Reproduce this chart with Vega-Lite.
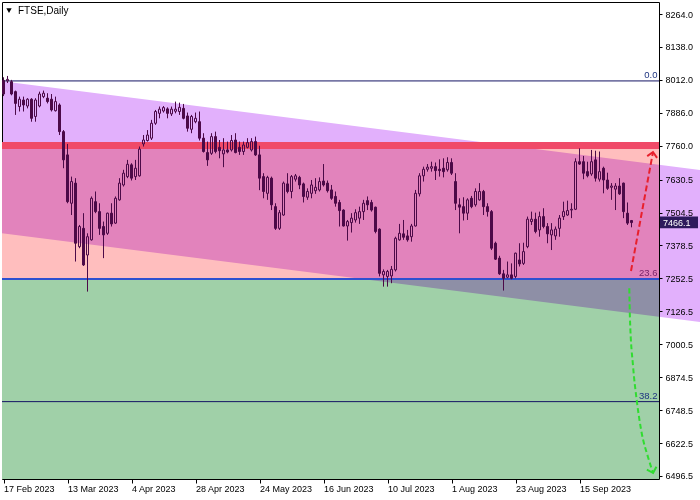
{
  "$schema": "https://vega.github.io/schema/vega-lite/v6.json",
  "width": 657,
  "height": 477,
  "autosize": {"type": "none"},
  "padding": {"left": 2, "top": 2, "right": 41, "bottom": 21},
  "background": "#ffffff",
  "config": {
    "view": {"stroke": "#000000", "strokeWidth": 1},
    "font": "Liberation Sans",
    "scale": {"continuousPadding": 0},
    "axis": {"labelOverlap": false, "labelFlush": false, "labelBound": false, "grid": false, "domain": false},
    "axisY": {"labelOverlap": false},
    "axisQuantitative": {"labelOverlap": false, "tickCount": 20}
  },
  "datasets": {
    "zones": [
      {"zone": "salmon", "top": 7761, "bottom": 7250},
      {"zone": "green", "top": 7250, "bottom": 6485}
    ],
    "channel": [
      {"i": -0.375, "top": 8006.7, "bot": 7425.2},
      {"i": 174.125, "top": 7667.5, "bot": 7086}
    ],
    "fib": [
      {"level": "0.0", "price": 8008},
      {"level": "23.6", "price": 7250},
      {"level": "38.2", "price": 6781}
    ],
    "resistance": [{"price": 7761}],
    "up": [
      {"s": 0, "i": 156.875, "p": 7280.7},
      {"s": 1, "i": 162.375, "p": 7736}
    ],
    "uptip": [{"i": 162.375, "p": 7736}],
    "down": [
      {"s": 0, "i": 156.45, "p": 7214.5},
      {"s": 1, "i": 156.6, "p": 7105.9},
      {"s": 2, "i": 157.4, "p": 6914.6},
      {"s": 3, "i": 158.3, "p": 6787.2},
      {"s": 4, "i": 159.55, "p": 6660.9},
      {"s": 5, "i": 161.1, "p": 6570.2},
      {"s": 6, "i": 162.4, "p": 6507.9}
    ],
    "downtip": [{"i": 162.4, "p": 6507.9}],
    "last": [{"close": 7466.1}],
    "title": [{"text": "FTSE,Daily"}],
    "candles": [
      {"i":0,"o":8010,"h":8022,"l":7950,"c":7958},
      {"i":1,"o":8008,"h":8027,"l":8000,"c":8014},
      {"i":2,"o":8005,"h":8012,"l":7953,"c":7958},
      {"i":3,"o":7967,"h":7971,"l":7878,"c":7922},
      {"i":4,"o":7910,"h":7948,"l":7891,"c":7938},
      {"i":5,"o":7935,"h":7948,"l":7891,"c":7916},
      {"i":6,"o":7912,"h":7942,"l":7903,"c":7938},
      {"i":7,"o":7938,"h":7942,"l":7852,"c":7865},
      {"i":8,"o":7872,"h":7942,"l":7852,"c":7935},
      {"i":9,"o":7912,"h":7967,"l":7907,"c":7958},
      {"i":10,"o":7948,"h":7971,"l":7942,"c":7961},
      {"i":11,"o":7942,"h":7961,"l":7922,"c":7929},
      {"i":12,"o":7938,"h":7958,"l":7891,"c":7897},
      {"i":13,"o":7894,"h":7948,"l":7891,"c":7929},
      {"i":14,"o":7916,"h":7922,"l":7801,"c":7814},
      {"i":15,"o":7814,"h":7820,"l":7674,"c":7706},
      {"i":16,"o":7725,"h":7767,"l":7540,"c":7546},
      {"i":17,"o":7540,"h":7642,"l":7495,"c":7623},
      {"i":18,"o":7617,"h":7636,"l":7317,"c":7387},
      {"i":19,"o":7374,"h":7457,"l":7368,"c":7451},
      {"i":20,"o":7444,"h":7502,"l":7300,"c":7304},
      {"i":21,"o":7342,"h":7425,"l":7202,"c":7412},
      {"i":22,"o":7400,"h":7566,"l":7397,"c":7559},
      {"i":23,"o":7546,"h":7585,"l":7502,"c":7508},
      {"i":24,"o":7508,"h":7540,"l":7419,"c":7444},
      {"i":25,"o":7451,"h":7470,"l":7330,"c":7419},
      {"i":26,"o":7425,"h":7504,"l":7419,"c":7502},
      {"i":27,"o":7502,"h":7540,"l":7451,"c":7461},
      {"i":28,"o":7464,"h":7566,"l":7461,"c":7559},
      {"i":29,"o":7553,"h":7636,"l":7550,"c":7617},
      {"i":30,"o":7610,"h":7668,"l":7604,"c":7655},
      {"i":31,"o":7642,"h":7706,"l":7636,"c":7689},
      {"i":32,"o":7687,"h":7693,"l":7627,"c":7636},
      {"i":33,"o":7642,"h":7706,"l":7629,"c":7674},
      {"i":34,"o":7645,"h":7757,"l":7642,"c":7747},
      {"i":35,"o":7767,"h":7801,"l":7757,"c":7782},
      {"i":36,"o":7780,"h":7820,"l":7776,"c":7801},
      {"i":37,"o":7789,"h":7859,"l":7782,"c":7846},
      {"i":38,"o":7846,"h":7897,"l":7840,"c":7891},
      {"i":39,"o":7884,"h":7910,"l":7865,"c":7900},
      {"i":40,"o":7893,"h":7912,"l":7887,"c":7906},
      {"i":41,"o":7901,"h":7907,"l":7865,"c":7884},
      {"i":42,"o":7882,"h":7910,"l":7874,"c":7900},
      {"i":43,"o":7892,"h":7929,"l":7884,"c":7900},
      {"i":44,"o":7891,"h":7925,"l":7878,"c":7907},
      {"i":45,"o":7903,"h":7920,"l":7861,"c":7865},
      {"i":46,"o":7874,"h":7887,"l":7814,"c":7827},
      {"i":47,"o":7823,"h":7878,"l":7808,"c":7872},
      {"i":48,"o":7852,"h":7887,"l":7846,"c":7865},
      {"i":49,"o":7852,"h":7891,"l":7780,"c":7789},
      {"i":50,"o":7789,"h":7808,"l":7734,"c":7738},
      {"i":51,"o":7734,"h":7776,"l":7683,"c":7706},
      {"i":52,"o":7731,"h":7808,"l":7725,"c":7795},
      {"i":53,"o":7795,"h":7814,"l":7731,"c":7738},
      {"i":54,"o":7754,"h":7782,"l":7712,"c":7741},
      {"i":55,"o":7729,"h":7789,"l":7678,"c":7744},
      {"i":56,"o":7744,"h":7776,"l":7731,"c":7736},
      {"i":57,"o":7744,"h":7801,"l":7738,"c":7780},
      {"i":58,"o":7782,"h":7808,"l":7731,"c":7734},
      {"i":59,"o":7754,"h":7776,"l":7725,"c":7738},
      {"i":60,"o":7738,"h":7776,"l":7725,"c":7763},
      {"i":61,"o":7754,"h":7789,"l":7750,"c":7772},
      {"i":62,"o":7744,"h":7789,"l":7738,"c":7776},
      {"i":63,"o":7776,"h":7795,"l":7721,"c":7725},
      {"i":64,"o":7725,"h":7760,"l":7590,"c":7636},
      {"i":65,"o":7642,"h":7655,"l":7559,"c":7585},
      {"i":66,"o":7578,"h":7645,"l":7553,"c":7639},
      {"i":67,"o":7636,"h":7642,"l":7514,"c":7534},
      {"i":68,"o":7527,"h":7540,"l":7438,"c":7444},
      {"i":69,"o":7444,"h":7514,"l":7438,"c":7504},
      {"i":70,"o":7495,"h":7623,"l":7492,"c":7617},
      {"i":71,"o":7614,"h":7655,"l":7578,"c":7585},
      {"i":72,"o":7585,"h":7648,"l":7559,"c":7642},
      {"i":73,"o":7632,"h":7652,"l":7623,"c":7645},
      {"i":74,"o":7639,"h":7645,"l":7594,"c":7610},
      {"i":75,"o":7614,"h":7619,"l":7543,"c":7566},
      {"i":76,"o":7563,"h":7597,"l":7553,"c":7585},
      {"i":77,"o":7578,"h":7629,"l":7559,"c":7610},
      {"i":78,"o":7588,"h":7636,"l":7576,"c":7601},
      {"i":79,"o":7591,"h":7639,"l":7585,"c":7623},
      {"i":80,"o":7625,"h":7690,"l":7604,"c":7610},
      {"i":81,"o":7617,"h":7627,"l":7581,"c":7588},
      {"i":82,"o":7591,"h":7610,"l":7553,"c":7559},
      {"i":83,"o":7566,"h":7585,"l":7527,"c":7540},
      {"i":84,"o":7543,"h":7553,"l":7451,"c":7512},
      {"i":85,"o":7514,"h":7517,"l":7451,"c":7453},
      {"i":86,"o":7453,"h":7476,"l":7397,"c":7470},
      {"i":87,"o":7466,"h":7502,"l":7428,"c":7483},
      {"i":88,"o":7476,"h":7517,"l":7466,"c":7504},
      {"i":89,"o":7483,"h":7527,"l":7461,"c":7508},
      {"i":90,"o":7508,"h":7553,"l":7476,"c":7540},
      {"i":91,"o":7550,"h":7566,"l":7514,"c":7534},
      {"i":92,"o":7543,"h":7553,"l":7508,"c":7514},
      {"i":93,"o":7525,"h":7527,"l":7425,"c":7432},
      {"i":94,"o":7441,"h":7444,"l":7260,"c":7272},
      {"i":95,"o":7266,"h":7287,"l":7221,"c":7279},
      {"i":96,"o":7260,"h":7285,"l":7221,"c":7279},
      {"i":97,"o":7262,"h":7300,"l":7234,"c":7287},
      {"i":98,"o":7285,"h":7412,"l":7279,"c":7406},
      {"i":99,"o":7400,"h":7461,"l":7397,"c":7425},
      {"i":100,"o":7423,"h":7476,"l":7400,"c":7410},
      {"i":101,"o":7415,"h":7438,"l":7393,"c":7400},
      {"i":102,"o":7412,"h":7461,"l":7393,"c":7453},
      {"i":103,"o":7453,"h":7591,"l":7451,"c":7578},
      {"i":104,"o":7576,"h":7655,"l":7566,"c":7645},
      {"i":105,"o":7645,"h":7680,"l":7623,"c":7670},
      {"i":106,"o":7670,"h":7690,"l":7661,"c":7678},
      {"i":107,"o":7674,"h":7699,"l":7661,"c":7680},
      {"i":108,"o":7680,"h":7696,"l":7629,"c":7665},
      {"i":109,"o":7670,"h":7708,"l":7642,"c":7665},
      {"i":110,"o":7674,"h":7712,"l":7639,"c":7661},
      {"i":111,"o":7668,"h":7716,"l":7661,"c":7696},
      {"i":112,"o":7696,"h":7712,"l":7648,"c":7655},
      {"i":113,"o":7623,"h":7655,"l":7514,"c":7540},
      {"i":114,"o":7534,"h":7559,"l":7425,"c":7525},
      {"i":115,"o":7527,"h":7563,"l":7474,"c":7502},
      {"i":116,"o":7502,"h":7559,"l":7476,"c":7553},
      {"i":117,"o":7559,"h":7568,"l":7521,"c":7527},
      {"i":118,"o":7534,"h":7597,"l":7527,"c":7585},
      {"i":119,"o":7553,"h":7617,"l":7550,"c":7585},
      {"i":120,"o":7585,"h":7591,"l":7495,"c":7527},
      {"i":121,"o":7527,"h":7540,"l":7489,"c":7508},
      {"i":122,"o":7508,"h":7514,"l":7361,"c":7368},
      {"i":123,"o":7387,"h":7393,"l":7323,"c":7326},
      {"i":124,"o":7330,"h":7339,"l":7266,"c":7270},
      {"i":125,"o":7270,"h":7285,"l":7206,"c":7253},
      {"i":126,"o":7257,"h":7317,"l":7253,"c":7266},
      {"i":127,"o":7266,"h":7310,"l":7249,"c":7253},
      {"i":128,"o":7260,"h":7351,"l":7253,"c":7349},
      {"i":129,"o":7323,"h":7387,"l":7298,"c":7308},
      {"i":130,"o":7310,"h":7389,"l":7304,"c":7355},
      {"i":131,"o":7374,"h":7489,"l":7368,"c":7479},
      {"i":132,"o":7470,"h":7508,"l":7457,"c":7479},
      {"i":133,"o":7479,"h":7504,"l":7425,"c":7432},
      {"i":134,"o":7438,"h":7508,"l":7412,"c":7489},
      {"i":135,"o":7489,"h":7521,"l":7444,"c":7451},
      {"i":136,"o":7451,"h":7464,"l":7387,"c":7423},
      {"i":137,"o":7419,"h":7464,"l":7361,"c":7438},
      {"i":138,"o":7415,"h":7451,"l":7400,"c":7441},
      {"i":139,"o":7444,"h":7495,"l":7412,"c":7483},
      {"i":140,"o":7489,"h":7546,"l":7476,"c":7508},
      {"i":141,"o":7495,"h":7550,"l":7492,"c":7512},
      {"i":142,"o":7514,"h":7540,"l":7483,"c":7517},
      {"i":143,"o":7517,"h":7712,"l":7514,"c":7699},
      {"i":144,"o":7699,"h":7750,"l":7687,"c":7690},
      {"i":145,"o":7699,"h":7721,"l":7632,"c":7655},
      {"i":146,"o":7661,"h":7699,"l":7639,"c":7645},
      {"i":147,"o":7652,"h":7744,"l":7645,"c":7699},
      {"i":148,"o":7706,"h":7741,"l":7623,"c":7636},
      {"i":149,"o":7632,"h":7738,"l":7623,"c":7661},
      {"i":150,"o":7674,"h":7680,"l":7578,"c":7629},
      {"i":151,"o":7629,"h":7657,"l":7591,"c":7597},
      {"i":152,"o":7601,"h":7617,"l":7553,"c":7606},
      {"i":153,"o":7594,"h":7617,"l":7514,"c":7606},
      {"i":154,"o":7606,"h":7636,"l":7572,"c":7576},
      {"i":155,"o":7617,"h":7619,"l":7483,"c":7508},
      {"i":156,"o":7502,"h":7543,"l":7457,"c":7464},
      {"i":157,"o":7474,"h":7476,"l":7448,"c":7466.1}
    ]
  },
  "layer": [
    {
      "data": {"name": "zones"},
      "mark": {"type": "rect"},
      "encoding": {
        "x": {"datum": -0.375, "type": "quantitative", "scale": {"domain": [-0.375, 163.875], "nice": false, "zero": false, "padding": 0}},
        "x2": {"datum": 163.875},
        "y": {"field": "top", "type": "quantitative", "scale": {"domain": [6485, 8310], "nice": false, "zero": false}},
        "y2": {"field": "bottom"},
        "fill": {"condition": {"test": "datum.zone == 'salmon'", "value": "#FFBEBE"}, "value": "#A0D0A8"}
      }
    },
    {
      "data": {"name": "channel"},
      "mark": {"type": "area", "color": "#E2B0FC", "blend": "multiply", "clip": false},
      "encoding": {
        "x": {"field": "i", "type": "quantitative", "scale": {"domain": [-0.375, 163.875], "nice": false, "zero": false, "padding": 0}},
        "y": {"field": "top", "type": "quantitative", "scale": {"domain": [6485, 8310], "nice": false, "zero": false}},
        "y2": {"field": "bot"}
      }
    },
    {
      "data": {"name": "fib"},
      "mark": {"type": "rule"},
      "encoding": {
        "y": {"field": "price", "type": "quantitative", "scale": {"domain": [6485, 8310], "nice": false, "zero": false}},
        "color": {"condition": {"test": "datum.level == '23.6'", "value": "#2E50D0"}, "value": "#141464"},
        "strokeWidth": {"condition": {"test": "datum.level == '23.6'", "value": 2}, "value": 1}
      }
    },
    {
      "data": {"name": "resistance"},
      "mark": {"type": "rule", "color": "#F04A68", "strokeWidth": 7},
      "encoding": {
        "y": {"field": "price", "type": "quantitative", "scale": {"domain": [6485, 8310], "nice": false, "zero": false}}
      }
    },
    {
      "data": {"name": "candles"},
      "mark": {"type": "rule", "color": "#4C0A48", "strokeWidth": 1},
      "encoding": {
        "x": {"field": "i", "type": "quantitative", "scale": {"domain": [-0.375, 163.875], "nice": false, "zero": false, "padding": 0},
          "axis": {"orient": "bottom", "values": [0, 16, 32, 48, 64, 80, 96, 112, 128, 144],
            "labelExpr": "['17 Feb 2023','13 Mar 2023','4 Apr 2023','28 Apr 2023','24 May 2023','16 Jun 2023','10 Jul 2023','1 Aug 2023','23 Aug 2023','15 Sep 2023'][round(datum.value / 16)]",
            "title": null, "grid": false, "domain": false, "ticks": true, "tickSize": 4, "tickColor": "#000000",
            "labelPadding": 1, "labelFont": "Liberation Sans", "labelFontSize": 9, "labelColor": "#000000",
            "labelAlign": "left", "labelBaseline": "top", "labelOverlap": false, "labelFlush": false, "labelBound": false, "zindex": 1}},
        "y": {"field": "h", "type": "quantitative", "scale": {"domain": [6485, 8310], "nice": false, "zero": false},
          "axis": {"orient": "right", "values": [8264, 8138, 8012, 7886, 7760, 7630.5, 7504.5, 7378.5, 7252.5, 7126.5, 7000.5, 6874.5, 6748.5, 6622.5, 6496.5],
            "format": ".1f", "title": null, "grid": false, "domain": false, "ticks": true, "tickSize": 3, "tickColor": "#000000",
            "labelPadding": 3, "labelFont": "Liberation Sans", "labelFontSize": 9, "labelColor": "#000000",
            "labelAlign": "left", "labelBaseline": "middle", "labelOverlap": false, "labelFlush": false, "labelBound": false, "zindex": 1}},
        "y2": {"field": "c"}
      }
    },
    {
      "data": {"name": "candles"},
      "mark": {"type": "rule", "color": "#4C0A48", "strokeWidth": 1},
      "encoding": {
        "x": {"field": "i", "type": "quantitative", "scale": {"domain": [-0.375, 163.875], "nice": false, "zero": false, "padding": 0}},
        "y": {"field": "l", "type": "quantitative", "scale": {"domain": [6485, 8310], "nice": false, "zero": false}},
        "y2": {"field": "o"}
      }
    },
    {
      "data": {"name": "candles"},
      "mark": {"type": "bar", "width": 2, "color": "#4C0A48", "stroke": "#4C0A48", "strokeWidth": 1},
      "encoding": {
        "x": {"field": "i", "type": "quantitative", "scale": {"domain": [-0.375, 163.875], "nice": false, "zero": false, "padding": 0}},
        "y": {"field": "o", "type": "quantitative", "scale": {"domain": [6485, 8310], "nice": false, "zero": false}},
        "y2": {"field": "c"},
        "fillOpacity": {"condition": {"test": "datum.c > datum.o", "value": 0}, "value": 1}
      }
    },
    {
      "data": {"name": "fib"},
      "mark": {"type": "text", "align": "right", "baseline": "bottom", "dy": -1, "font": "Liberation Sans", "fontSize": 9.5},
      "encoding": {
        "x": {"datum": 163.5, "type": "quantitative", "scale": {"domain": [-0.375, 163.875], "nice": false, "zero": false, "padding": 0}},
        "y": {"field": "price", "type": "quantitative", "scale": {"domain": [6485, 8310], "nice": false, "zero": false}},
        "text": {"field": "level"},
        "color": {"condition": {"test": "datum.level == '23.6'", "value": "#7A2468"}, "value": "#1E3480"}
      }
    },
    {
      "data": {"name": "up"},
      "mark": {"type": "line", "color": "#E8202C", "strokeWidth": 2, "strokeDash": [6, 3]},
      "encoding": {
        "x": {"field": "i", "type": "quantitative", "scale": {"domain": [-0.375, 163.875], "nice": false, "zero": false, "padding": 0}},
        "y": {"field": "p", "type": "quantitative", "scale": {"domain": [6485, 8310], "nice": false, "zero": false}},
        "order": {"field": "s"}
      }
    },
    {
      "data": {"name": "uptip"},
      "mark": {"type": "point", "shape": "M-1,1L0,0L1,1", "size": 100, "filled": false, "stroke": "#E8202C", "strokeWidth": 2, "opacity": 1, "angle": 10},
      "encoding": {
        "x": {"field": "i", "type": "quantitative", "scale": {"domain": [-0.375, 163.875], "nice": false, "zero": false, "padding": 0}},
        "y": {"field": "p", "type": "quantitative", "scale": {"domain": [6485, 8310], "nice": false, "zero": false}}
      }
    },
    {
      "data": {"name": "down"},
      "mark": {"type": "line", "color": "#30DC30", "strokeWidth": 2, "strokeDash": [5, 3], "interpolate": "monotone"},
      "encoding": {
        "x": {"field": "i", "type": "quantitative", "scale": {"domain": [-0.375, 163.875], "nice": false, "zero": false, "padding": 0}},
        "y": {"field": "p", "type": "quantitative", "scale": {"domain": [6485, 8310], "nice": false, "zero": false}},
        "order": {"field": "s"}
      }
    },
    {
      "data": {"name": "downtip"},
      "mark": {"type": "point", "shape": "M-1,-1L0,0L1,-1", "size": 100, "filled": false, "stroke": "#30DC30", "strokeWidth": 2, "opacity": 1, "angle": -17},
      "encoding": {
        "x": {"field": "i", "type": "quantitative", "scale": {"domain": [-0.375, 163.875], "nice": false, "zero": false, "padding": 0}},
        "y": {"field": "p", "type": "quantitative", "scale": {"domain": [6485, 8310], "nice": false, "zero": false}}
      }
    },
    {
      "data": {"name": "last"},
      "mark": {"type": "rect", "color": "#2D1A5C", "clip": false},
      "encoding": {
        "x": {"datum": 164.125, "type": "quantitative", "scale": {"domain": [-0.375, 163.875], "nice": false, "zero": false, "padding": 0}},
        "x2": {"datum": 173.625},
        "y": {"datum": 7489, "type": "quantitative", "scale": {"domain": [6485, 8310], "nice": false, "zero": false}},
        "y2": {"datum": 7444}
      }
    },
    {
      "data": {"name": "last"},
      "mark": {"type": "text", "align": "left", "baseline": "middle", "color": "#ffffff", "font": "Liberation Sans", "fontSize": 9, "clip": false},
      "encoding": {
        "x": {"datum": 164.875, "type": "quantitative", "scale": {"domain": [-0.375, 163.875], "nice": false, "zero": false, "padding": 0}},
        "y": {"field": "close", "type": "quantitative", "scale": {"domain": [6485, 8310], "nice": false, "zero": false}},
        "text": {"field": "close", "format": ".1f"}
      }
    },
    {
      "data": {"name": "title"},
      "mark": {"type": "text", "align": "left", "baseline": "alphabetic", "color": "#000000", "font": "Liberation Sans", "fontSize": 10},
      "encoding": {
        "x": {"datum": 3.625, "type": "quantitative", "scale": {"domain": [-0.375, 163.875], "nice": false, "zero": false, "padding": 0}},
        "y": {"datum": 8264, "type": "quantitative", "scale": {"domain": [6485, 8310], "nice": false, "zero": false}},
        "text": {"field": "text"}
      }
    },
    {
      "data": {"name": "title"},
      "mark": {"type": "point", "shape": "triangle-down", "size": 28, "filled": true, "color": "#000000", "opacity": 1},
      "encoding": {
        "x": {"datum": 1.375, "type": "quantitative", "scale": {"domain": [-0.375, 163.875], "nice": false, "zero": false, "padding": 0}},
        "y": {"datum": 8277, "type": "quantitative", "scale": {"domain": [6485, 8310], "nice": false, "zero": false}}
      }
    }
  ]
}
